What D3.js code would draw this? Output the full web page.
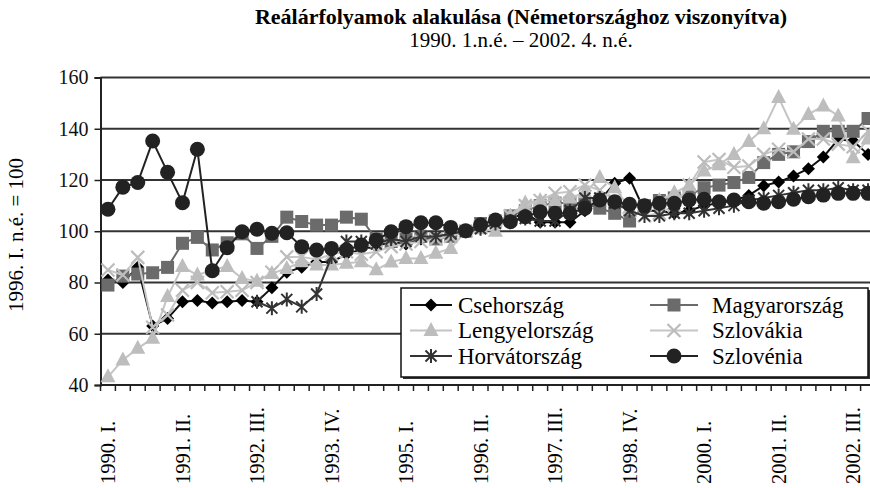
<!DOCTYPE html>
<html lang="hu">
<head>
<meta charset="utf-8">
<title>Reálárfolyamok alakulása</title>
<script src="https://d3js.org/d3.v7.min.js"></script>
<style>
    body { margin: 0; background: #fff; }
    svg { display: block; font-family: "Liberation Serif", "Times New Roman", serif; }
</style>
</head>
<body>

<svg id="chart"></svg>

<script>
    // categories: quarters 1990 I. - 2002 IV.
    const years = [1990, 1991, 1992, 1993, 1994, 1995, 1996, 1997, 1998, 1999, 2000, 2001, 2002];
    const romans = ["I.", "II.", "III.", "IV."];
    const quarters = years.flatMap(y => romans.map(r => `${y}. ${r}`));

    const tickLabels = ["1990. I.", "1991. II.", "1992. III.", "1993. IV.", "1995. I.", "1996. II.",
                        "1997. III.", "1998. IV.", "2000. I.", "2001. II.", "2002. III."];
    const yTicks = [40, 60, 80, 100, 120, 140, 160];

    // values (1996. I. n.é. = 100)
    const cseh = [81, 80, 86, 63, 66, 72.5, 73, 72, 72.5, 73, 72.5, 78, 84, 86, 88, 88,
                  91, 93, 94, 96, 95, 97, 97, 98, 100, 102, 104, 105, 107, 103.5, 103.5, 103.5,
                  108, 112, 118.7, 120.7, 108, 108, 107, 108, 110, 111, 112, 114, 117.8, 119.2, 121.6, 124.4,
                  129, 135.9, 135.2, 130];
    const magyar = [79, 82.5, 83.3, 83.8, 85.9, 95.3, 97.6, 92.7, 95.5, 99, 93.3, 98, 105.5, 103.8, 102.4, 102.4,
                    105.5, 104.7, 97, 96, 97, 98, 97, 98, 100, 103, 104, 106, 108, 110, 111, 111,
                    111, 109, 107, 104, 110, 112, 113, 114, 117, 118, 119, 121, 126.8, 130, 131, 135,
                    139, 139, 139, 144];
    const lengyel = [43.2, 49.8, 54.3, 58.2, 74.5, 86.2, 82.9, 85, 86.2, 81.6, 80.5, 83.5, 85.5, 88.1, 86.8, 86.8,
                     87.5, 88.1, 85, 88, 89.4, 89.4, 91.4, 93.3, 100, 101, 100, 106, 111, 112, 112, 113,
                     115, 121, 117, 109, 110, 112, 115, 118, 123.5, 126, 130, 135, 140, 152.2, 139.8, 145.6,
                     148.9, 145, 128.7, 136];
    const szlovak = [84.9, 82.9, 89.8, 62.5, 67.3, 77, 80, 76, 76.4, 77, 80, 84, 90, 90, 89, 91,
                     92, 91, 92, 94, 95, 96, 97, 98, 100, 102, 104, 106, 110, 112, 114.8, 115.4,
                     118, 116, 112, 108, 106, 107, 110, 118, 127, 128, 125, 125.5, 130, 132, 131, 136,
                     136, 134, 133, 139];
    const horvat = [null, null, null, null, null, null, null, null, null, null, 72.5, 70, 73.4, 70.5, 75.5, 90,
                    96, 96, 95, 97, 96, 98, 98, 99, 100, 101, 103, 104, 105, 104, 104, 108,
                    113, 113, 111, 108, 106, 106, 107, 107, 108, 109, 110, 112, 113, 114, 115, 116,
                    116, 117, 116, 116];
    const szloven = [108.6, 117.2, 119, 135.2, 123, 111.1, 132, 84.6, 93.6, 99.8, 100.8, 99.2, 99.4, 94, 92.7, 93.3,
                     92.7, 94.6, 96.6, 99.8, 101.8, 103.3, 103.3, 101.5, 100.2, 102.5, 104.4, 103.7, 105.7, 107.6, 107, 107,
                     109, 112.2, 111.5, 110.5, 110, 110.9, 110.9, 112.2, 112.5, 111.5, 112.2, 111.5, 110.9, 111.5, 112.5, 113.5,
                     114.1, 114.8, 114.8, 114.8];

    const names = ["Csehország", "Magyarország", "Lengyelország", "Szlovákia", "Horvátország", "Szlovénia"];

    let series = [
        {name: names[0], values: cseh,    color: "#000",    line: "#111",    mark: "diamond"},
        {name: names[1], values: magyar,  color: "#6b6b6b", line: "#6b6b6b", mark: "square"},
        {name: names[2], values: lengyel, color: "#bdbdbd", line: "#c4c4c4", mark: "triangle"},
        {name: names[3], values: szlovak, color: "#bcbcbc", line: "#c6c6c6", mark: "x"},
        {name: names[4], values: horvat,  color: "#333",    line: "#333",    mark: "star"},
        {name: names[5], values: szloven, color: "#222",    line: "#222",    mark: "circle"}
    ];

    let width = 870, height = 488;
    let plot = {left: 100.5, right: 875.5, top: 77.5, bottom: 385};

    let svg = d3.select("#chart")
        .attr("width", width)
        .attr("height", height);

    let x = d3.scaleBand().domain(quarters).range([plot.left, plot.right]);
    let y = d3.scaleLinear().domain([40, 160]).range([plot.bottom, plot.top]);
    let cx = q => x(q) + x.bandwidth() / 2;

    // title
    svg.append("text")
        .attr("x", 521).attr("y", 24)
        .attr("text-anchor", "middle")
        .attr("font-size", 22).attr("font-weight", "bold")
        .text("Reálárfolyamok alakulása (Németországhoz viszonyítva)");
    svg.append("text")
        .attr("x", 521).attr("y", 47)
        .attr("text-anchor", "middle")
        .attr("font-size", 21)
        .text("1990. 1.n.é. – 2002. 4. n.é.");

    // gridlines
    svg.append("g").attr("id", "grid")
        .selectAll("line")
        .data(yTicks.filter(d => d > 40))
        .join("line")
            .attr("x1", plot.left).attr("x2", width)
            .attr("y1", d => y(d)).attr("y2", d => y(d))
            .attr("stroke", "#333").attr("stroke-width", 1.8);

    // y axis
    let yAxis = svg.append("g")
        .attr("transform", `translate(${plot.left},0)`)
        .call(d3.axisLeft(y).tickValues(yTicks).tickSize(6).tickPadding(6).tickFormat(d3.format("d")));
    yAxis.select(".domain").attr("stroke", "#222").attr("stroke-width", 2);
    yAxis.selectAll(".tick line").attr("stroke", "#222").attr("stroke-width", 1.5);
    yAxis.selectAll(".tick text").attr("font-size", 20).attr("font-family", "Liberation Serif").attr("fill", "#111");

    svg.append("text")
        .attr("transform", "translate(23,235) rotate(-90)")
        .attr("text-anchor", "middle")
        .attr("font-size", 21)
        .text("1996. I. n.é. = 100");

    // x axis, ticks between categories
    let xAxis = svg.append("g").attr("id", "xaxis");
    xAxis.append("line")
        .attr("x1", plot.left).attr("x2", width)
        .attr("y1", plot.bottom).attr("y2", plot.bottom)
        .attr("stroke", "#222").attr("stroke-width", 2);
    xAxis.selectAll("line.tick")
        .data(quarters.map(q => x(q)).concat([plot.right]))
        .join("line")
            .attr("class", "tick")
            .attr("x1", d => d).attr("x2", d => d)
            .attr("y1", plot.bottom).attr("y2", plot.bottom + 6)
            .attr("stroke", "#222").attr("stroke-width", 1.5);
    xAxis.selectAll("text")
        .data(tickLabels)
        .join("text")
            .attr("transform", d => `translate(${cx(d)},484) rotate(-90)`)
            .attr("dy", "0.35em")
            .attr("font-size", 20.5)
            .text(d => d);

    // markers
    function marker(g, type, color) {
        if (type === "diamond") g.append("path").attr("d", "M0,-6.5L6.5,0L0,6.5L-6.5,0Z").attr("fill", color);
        if (type === "square") g.append("rect").attr("x", -6.5).attr("y", -6.5).attr("width", 13).attr("height", 13).attr("fill", color);
        if (type === "triangle") g.append("path").attr("d", "M0,-8.5L7.5,5.5L-7.5,5.5Z").attr("fill", color);
        if (type === "x") g.append("path").attr("d", "M-6.5,-6.5L6.5,6.5M-6.5,6.5L6.5,-6.5").attr("stroke", color).attr("stroke-width", 2.2);
        if (type === "star") g.append("path").attr("d", "M-5.5,-5.5L5.5,5.5M-5.5,5.5L5.5,-5.5M0,-7L0,7").attr("stroke", color).attr("stroke-width", 2);
        if (type === "circle") g.append("circle").attr("r", 7.5).attr("fill", color);
    }

    let line = d3.line()
        .defined(d => d.v != null)
        .x(d => cx(d.q))
        .y(d => y(d.v));

    let chartArea = svg.append("g").attr("id", "series");
    series.forEach(s => {
        let pts = s.values.map((v, i) => ({q: quarters[i], v: v}));
        let g = chartArea.append("g");
        g.append("path")
            .datum(pts)
            .attr("fill", "none")
            .attr("stroke", s.line)
            .attr("stroke-width", 2)
            .attr("d", line);
        g.selectAll("g.pt")
            .data(pts.filter(d => d.v != null))
            .join("g")
                .attr("class", "pt")
                .attr("transform", d => `translate(${cx(d.q)},${y(d.v)})`)
                .each(function () { marker(d3.select(this), s.mark, s.color); });
    });

    // legend
    let legend = svg.append("g").attr("id", "legend");
    legend.append("rect")
        .attr("x", 403).attr("y", 290).attr("width", 467).attr("height", 89)
        .attr("fill", "#333");
    legend.append("rect")
        .attr("x", 401).attr("y", 288).attr("width", 467).attr("height", 89)
        .attr("fill", "#fff").attr("stroke", "#111").attr("stroke-width", 1.5);

    series.forEach((s, i) => {
        let col = i % 2, row = Math.floor(i / 2);
        let lx = col === 0 ? 410 : 650, lw = col === 0 ? 42 : 48;
        let ly = 305 + row * 25.5;
        let item = legend.append("g");
        item.append("line")
            .attr("x1", lx).attr("x2", lx + lw)
            .attr("y1", ly).attr("y2", ly)
            .attr("stroke", s.line).attr("stroke-width", 2);
        marker(item.append("g").attr("transform", `translate(${lx + lw / 2},${ly})`), s.mark, s.color);
        item.append("text")
            .attr("x", col === 0 ? 458 : 712)
            .attr("y", ly + 7.5)
            .attr("font-size", 23)
            .text(s.name);
    });
</script>

</body>
</html>
